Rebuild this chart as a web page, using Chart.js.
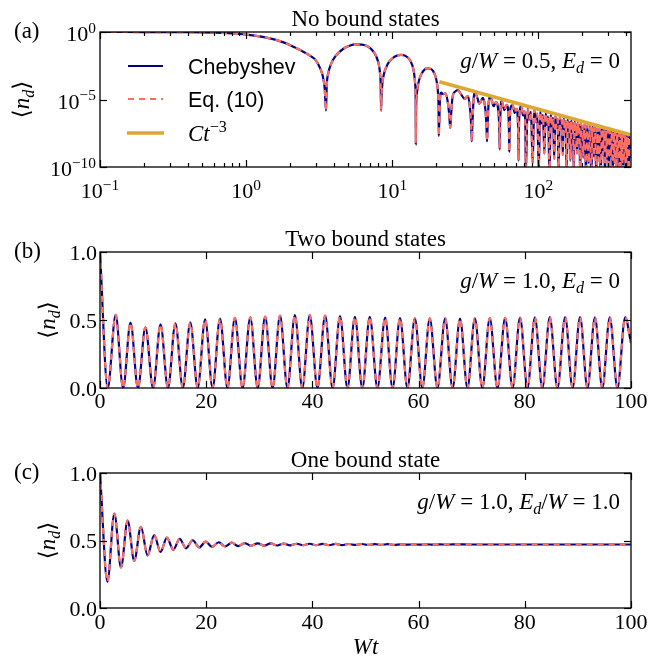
<!DOCTYPE html>
<html>
<head>
<meta charset="utf-8">
<script src="https://cdn.jsdelivr.net/npm/chart.js@4.4.1/dist/chart.umd.min.js"></script>
<style>
  html, body { margin: 0; padding: 0; background: #fff; }
  #wrap { position: relative; width: 652px; height: 656px; }
  #wrap canvas { position: absolute; left: 0; top: 0; }
</style>
</head>
<body>
<div id="wrap">
  <canvas id="canvasA" width="652" height="656"></canvas>
  <canvas id="canvasB" width="652" height="656"></canvas>
  <canvas id="canvasC" width="652" height="656"></canvas>
</div>
<script>
// ---- (a) no bound states, log-log: time Wt and <n_d>
var aT = [0.1, 0.15, 0.2, 0.3, 0.4, 0.5, 0.6, 0.7, 0.8, 0.9, 1.0, 1.2, 1.4, 1.6, 1.8, 2.0, 2.2, 2.4, 2.6, 2.8, 3.0, 3.2, 3.35, 3.45, 3.52,
  3.56, 3.65, 3.8, 4.1, 4.6, 5.1, 5.6, 6.2, 6.8, 7.3, 7.8, 8.1, 8.25, 8.33, 8.38,
  8.43, 8.55, 8.8, 9.3, 10.0, 10.8, 11.5, 12.3, 13.0, 13.7, 14.1, 14.35, 14.45, 14.5,
  14.55, 14.7, 15.0, 15.6, 16.4, 17.3, 18.2, 19.0, 19.8, 20.3, 20.6, 20.75, 20.8,
  21.2, 21.6, 22.3, 23.0, 24.0, 24.6, 24.9, 25.2, 25.8, 27.0, 28.1, 29.5, 31.3, 32.9, 34.0, 34.7, 35.0, 35.3, 36.0, 36.9, 38.2, 39.4, 41.7, 43.4, 44.1, 44.5, 44.9,
  45.6, 46.9, 49.4, 51.3, 53.3, 54.0, 54.3, 54.6, 55.2, 56.0, 58.5, 60.5, 62.4, 62.9, 63.2, 63.5, 64.2, 66.5, 68.8, 70.5, 72.3, 72.8, 73.1, 73.4, 74.2, 76.3, 78.5, 80.0, 81.3, 82.0,
  84.3, 86.6, 88.9, 91.3, 93.6, 95.9, 98.2, 100.5, 102.8, 105.1, 107.4, 109.8, 112.1, 114.4, 116.7, 119, 121.3, 123.6, 125.9, 128.3,
  130.6, 132.9, 135.2, 137.5, 139.8, 142.1, 144.4, 146.8, 149.1, 151.4, 153.7, 156, 158.3, 160.6, 162.9, 165.3, 167.6, 169.9, 172.2, 174.5,
  176.8, 179.1, 181.4, 183.8, 186.1, 188.4, 190.7, 193, 195.3, 197.6, 199.9,
  202.3, 206.9, 211.5, 216.1, 220.8, 225.4, 230, 234.6, 239.3, 243.9, 248.5, 253.1, 257.8, 262.4, 267, 271.6, 276.3, 280.9, 285.5, 290.1,
  294.8, 299.4, 304, 308.6, 313.3, 317.9, 322.5, 327.1, 331.8, 336.4, 341, 345.6, 350.3, 354.9, 359.5, 364.1, 368.8, 373.4, 378, 382.6,
  387.3, 391.9, 396.5, 401.1, 405.8, 410.4, 415, 419.6, 424.3, 430];
var aN = [0.998, 0.996, 0.992, 0.98, 0.96, 0.93, 0.89, 0.84, 0.78, 0.71, 0.64, 0.5, 0.37, 0.26, 0.17, 0.105, 0.065, 0.04, 0.025, 0.015, 0.008, 0.0022, 5e-4, 6e-5, 1.5e-6,
  1e-4, 9e-4, 0.004, 0.017, 0.055, 0.095, 0.12, 0.115, 0.085, 0.045, 0.014, 0.0035, 8e-4, 1.2e-4, 1.5e-6,
  1.3e-5, 1.5e-4, 9e-4, 0.0042, 0.011, 0.018, 0.02, 0.017, 0.0105, 0.0035, 9e-4, 1.3e-4, 1.4e-5, 5e-9,
  1.3e-6, 2e-5, 1.2e-4, 5.5e-4, 0.0014, 0.002, 0.0019, 0.0013, 4.6e-4, 1.2e-4, 2e-5, 1.3e-6, 2e-8,
  1e-5, 3.2e-5, 2.5e-5, 2.8e-5, 6e-6, 5e-7, 8e-8, 5e-7, 1.3e-5, 4e-5, 5e-5, 2.5e-5, 1.1e-5, 1.8e-5, 2.5e-6, 1e-7, 8e-9, 1e-7, 1e-5, 3.2e-5, 1.3e-5, 5e-6, 1.3e-5, 1.6e-6, 1e-7, 8e-9, 1e-7,
  5e-6, 1.6e-5, 3.2e-6, 6.3e-6, 1e-6, 6e-8, 2e-9, 6e-8, 3.2e-6, 8e-6, 1.6e-6, 4e-6, 6.3e-7, 4e-8, 1.3e-9, 4e-8, 2e-6, 4e-6, 1e-6, 2e-6, 3.2e-7, 2e-8, 3e-10, 2e-8, 1e-6, 3.2e-6, 6.3e-7, 1.3e-6, 1.6e-7, 3e-11,
  2.3e-6, 3e-7, 1.2e-6, 2e-10, 1.7e-6, 2.2e-7, 9e-7, 5e-11, 1.25e-6, 1.7e-7, 7e-7, 1e-9, 9.8e-7, 1.3e-7, 5.5e-7, 2e-11, 7.8e-7, 1e-7, 4.3e-7, 4e-10,
  6.2e-7, 8.3e-8, 3.5e-7, 3e-11, 5e-7, 6.8e-8, 2.9e-7, 8e-10, 4.2e-7, 5.6e-8, 2.4e-7, 2e-11, 3.5e-7, 4.7e-8, 2e-7, 3e-10, 2.9e-7, 4e-8, 1.7e-7, 4e-11,
  2.5e-7, 3.4e-8, 1.45e-7, 1e-9, 2.1e-7, 3e-8, 1.25e-7, 2e-11, 1.85e-7, 2.5e-8, 1.07e-7,
  5e-10, 1.6e-7, 3e-11, 1.35e-7, 2e-10, 1.2e-7, 1e-11, 1.05e-7, 6e-10, 9.3e-8, 2e-11, 8.3e-8, 3e-10, 7.6e-8, 1e-11, 6.8e-8, 8e-10, 6.2e-8, 2e-11, 5.6e-8,
  4e-10, 5.1e-8, 1e-11, 4.7e-8, 6e-10, 4.3e-8, 3e-11, 3.9e-8, 2e-10, 3.6e-8, 1e-11, 3.3e-8, 5e-10, 3.1e-8, 2e-11, 2.9e-8, 3e-10, 2.6e-8, 1e-11, 2.45e-8,
  7e-10, 2.3e-8, 2e-11, 2.1e-8, 4e-10, 2e-8, 1e-11, 1.85e-8, 5e-10, 1.5e-8];
// C t^-3 guide line, two ends
var fitT = [21, 430];
var fitN = [2.1e-4, 2.4e-8];

var aXMajor = [0.1, 1, 10, 100];
var aXExp = ['\u22121', '0', '1', '2'];
var aXMinor = [0.2, 0.3, 0.4, 0.5, 0.6, 0.7, 0.8, 0.9, 2, 3, 4, 5, 6, 7, 8, 9, 20, 30, 40, 50, 60, 70, 80, 90, 200, 300, 400];
var aYMajor = [1, 1e-5, 1e-10];
var aYExp = ['0', '\u22125', '\u221210'];

// ---- (b) two bound states
var bT = [0, 1.45, 2.95, 4.35, 5.75, 7.15, 8.55, 10.0, 11.4, 12.8, 14.2, 15.6, 17.0, 18.4, 19.8, 21.2, 22.6, 24.0, 25.4, 26.85, 28.3,
  29.7, 31.1, 32.5, 33.9, 35.3, 36.7, 38.1, 39.5, 40.95, 42.4, 43.8, 45.2, 46.6, 48.0, 49.4, 50.8, 52.25, 53.7, 55.1, 56.5,
  57.9, 59.3, 60.7, 62.1, 63.55, 65.0, 66.4, 67.8, 69.2, 70.6, 72.0, 73.4, 74.85, 76.3, 77.7, 79.1, 80.5, 81.9, 83.3, 84.7,
  86.15, 87.6, 89.0, 90.4, 91.8, 93.2, 94.6, 96.0, 97.45, 98.9, 100];
var bN = [1.0, 0, 0.537, 0, 0.48, 0, 0.446, 0, 0.468, 0, 0.476, 0, 0.483, 0, 0.505, 0, 0.51, 0, 0.515, 0, 0.52,
  0, 0.525, 0, 0.532, 0, 0.536, 0, 0.536, 0, 0.532, 0, 0.528, 0, 0.524, 0, 0.524, 0, 0.518, 0, 0.514,
  0, 0.512, 0, 0.512, 0, 0.512, 0, 0.51, 0, 0.512, 0, 0.514, 0, 0.516, 0, 0.518, 0, 0.52, 0, 0.522,
  0, 0.522, 0, 0.522, 0, 0.52, 0, 0.52, 0, 0.52, 0.33];

// ---- (c) one bound state
var cT = [0, 1.4, 2.7, 3.95, 5.2, 6.45, 7.7, 8.95, 10.2, 11.4, 12.6, 13.8, 15.0, 16.2, 17.45, 18.7, 19.9, 21.1, 22.35, 23.55,
  24.8, 26.0, 27.25, 28.45, 29.7, 30.9, 32.15, 33.35, 34.6, 35.8, 37.05, 38.25, 39.5, 40.7, 41.95, 43.15, 44.4, 45.6, 46.85, 48.05,
  49.3, 50.5, 51.75, 52.95, 54.2, 55.4, 56.65, 57.85, 59.1, 60.3, 61.55, 62.75, 64.0, 65.2, 66.45, 70, 80, 90, 100];
var cN = [1.0, 0.195, 0.70, 0.30, 0.647, 0.35, 0.602, 0.39, 0.54, 0.415, 0.522, 0.432, 0.512, 0.442, 0.502, 0.449, 0.492, 0.453, 0.487, 0.456,
  0.484, 0.459, 0.481, 0.461, 0.479, 0.462, 0.478, 0.463, 0.477, 0.464, 0.476, 0.465, 0.476, 0.465, 0.475, 0.466, 0.475, 0.466, 0.474, 0.467,
  0.474, 0.467, 0.473, 0.468, 0.473, 0.468, 0.472, 0.469, 0.472, 0.469, 0.472, 0.469, 0.471, 0.47, 0.471, 0.4705, 0.4705, 0.4705, 0.4705];

var linXTicks = [0, 20, 40, 60, 80, 100];
var linYTicks = [0, 0.5, 1];
var linYLabels = ['0.0', '0.5', '1.0'];

var BLUE = '#00008b';
var SALMON = '#ff6f61';
var GOLD = '#dca733';
var SERIF = '"Liberation Serif", "DejaVu Serif", serif';
var SANS = '"Liberation Sans", Arial, sans-serif';

function pts(xs, ys) {
	return xs.map(function (x, i) { return {x: x, y: ys[i]}; });
}

function curves(xs, ys) {
	return [
		{label: 'Chebyshev', data: pts(xs, ys), borderColor: BLUE, borderWidth: 2.2, order: 2},
		{label: 'Eq. (10)', data: pts(xs, ys), borderColor: SALMON, borderWidth: 2.2, borderDash: [6, 5], order: 1}
	];
}

// text with italic / sub / superscript pieces
function partFont(p, size) {
	var s = (p.sup || p.sub) ? size * 0.7 : size;
	return (p.i ? 'italic ' : '') + s + 'px ' + (p.sans ? SANS : SERIF);
}
function rich(ctx, parts, x, y, align, size) {
	size = size || 22;
	var w = 0;
	parts.forEach(function (p) { ctx.font = partFont(p, size); w += ctx.measureText(p.t).width; });
	var cx = align === 'right' ? x - w : (align === 'center' ? x - w / 2 : x);
	parts.forEach(function (p) {
		ctx.font = partFont(p, size);
		var dy = p.sup ? -0.38 * size : (p.sub ? 0.2 * size : 0);
		ctx.fillText(p.t, cx, y + dy);
		cx += ctx.measureText(p.t).width;
	});
}
function pow10(e) { return [{t: '10'}, {t: e, sup: true}]; }
function plain(s) { return [{t: String(s)}]; }

var nd = [{t: '\u27e8'}, {t: 'n', i: 1}, {t: 'd', i: 1, sub: 1}, {t: '\u27e9'}];

function seg(ctx, x1, y1, x2, y2) {
	ctx.beginPath(); ctx.moveTo(x1, y1); ctx.lineTo(x2, y2); ctx.stroke();
}

// frame, inward ticks on all four sides, tick labels and panel texts
function deco(cfg) {
	return {
		id: 'deco',
		afterDatasetsDraw: function (chart) {
			var ctx = chart.ctx, a = chart.chartArea, sx = chart.scales.x, sy = chart.scales.y;
			ctx.save();
			ctx.strokeStyle = '#000';
			ctx.lineWidth = 1.3;
			ctx.strokeRect(a.left, a.top, a.right - a.left, a.bottom - a.top);
			ctx.lineWidth = 1.2;
			function tickX(v, len) {
				var p = Math.round(sx.getPixelForValue(v)) + 0.5;
				seg(ctx, p, a.bottom, p, a.bottom - len);
				seg(ctx, p, a.top, p, a.top + len);
			}
			function tickY(v, len) {
				var p = Math.round(sy.getPixelForValue(v)) + 0.5;
				seg(ctx, a.left, p, a.left + len, p);
				seg(ctx, a.right, p, a.right - len, p);
			}
			cfg.xMajor.forEach(function (v) { tickX(v, 7); });
			(cfg.xMinor || []).forEach(function (v) { tickX(v, 4); });
			cfg.yMajor.forEach(function (v) { tickY(v, 7); });

			ctx.fillStyle = '#000';
			ctx.textAlign = 'left';
			ctx.textBaseline = 'alphabetic';
			cfg.xMajor.forEach(function (v, i) {
				rich(ctx, cfg.xLab[i], sx.getPixelForValue(v), a.bottom + cfg.xLabDy, 'center');
			});
			cfg.yMajor.forEach(function (v, i) {
				rich(ctx, cfg.yLab[i], cfg.yLabX, sy.getPixelForValue(v) + cfg.yLabDy, 'right');
			});
			rich(ctx, [{t: cfg.title}], (a.left + a.right) / 2, a.top - 6, 'center', 23);
			rich(ctx, [{t: cfg.tag}], 14, a.top + 6, 'left', 23);
			rich(ctx, cfg.note, a.right - 11, a.top + 36, 'right', 23);

			ctx.save();
			ctx.translate(cfg.ylabX, (a.top + a.bottom) / 2);
			ctx.rotate(-Math.PI / 2);
			rich(ctx, nd, 0, 0, 'center', 23);
			ctx.restore();

			if (cfg.extra) cfg.extra(ctx, chart);
			ctx.restore();
		}
	};
}

function makeChart(id, datasets, xScale, yScale, pad, cfg) {
	return new Chart(document.getElementById(id), {
		type: 'line',
		data: {datasets: datasets},
		options: {
			responsive: false,
			animation: false,
			events: [],
			layout: {padding: pad},
			elements: {point: {radius: 0}, line: {cubicInterpolationMode: 'monotone', fill: false}},
			plugins: {legend: {display: false}, tooltip: {enabled: false}},
			scales: {
				x: Object.assign({display: false}, xScale),
				y: Object.assign({display: false}, yScale)
			}
		},
		plugins: [deco(cfg)]
	});
}

// legend of panel (a), drawn with the dataset styles
function legendA(ctx, chart) {
	var ds = chart.data.datasets;
	ctx.lineCap = 'butt';
	ctx.strokeStyle = ds[0].borderColor; ctx.lineWidth = ds[0].borderWidth;
	seg(ctx, 128, 66, 163, 66);
	ctx.strokeStyle = ds[1].borderColor; ctx.lineWidth = ds[1].borderWidth;
	ctx.setLineDash(ds[1].borderDash);
	seg(ctx, 128, 99, 163, 99);
	ctx.setLineDash([]);
	ctx.strokeStyle = ds[2].borderColor; ctx.lineWidth = ds[2].borderWidth;
	seg(ctx, 127, 133, 164, 133);
	ctx.fillStyle = '#000';
	rich(ctx, [{t: 'Chebyshev', sans: 1}], 188, 73.5, 'left', 21.5);
	rich(ctx, [{t: 'Eq. (10)', sans: 1}], 188, 107, 'left', 21.5);
	rich(ctx, [{t: 'Ct', i: 1}, {t: '\u22123', sup: 1}], 188, 141, 'left', 23);
}

var dsA = curves(aT, aN);
dsA.push({label: 'Ct^-3', data: pts(fitT, fitN), borderColor: GOLD, borderWidth: 3.6, order: 0});

makeChart('canvasA', dsA,
	{type: 'logarithmic', min: 0.1, max: 430},
	{type: 'logarithmic', min: 1e-10, max: 1},
	{left: 100, right: 21, top: 32, bottom: 489},
	{
		xMajor: aXMajor, xMinor: aXMinor, yMajor: aYMajor,
		xLab: aXExp.map(pow10), yLab: aYExp.map(pow10),
		xLabDy: 31, yLabX: 96, yLabDy: 9,
		title: 'No bound states', tag: '(a)', ylabX: 29,
		note: [{t: 'g', i: 1}, {t: '/'}, {t: 'W', i: 1}, {t: ' = 0.5, '}, {t: 'E', i: 1}, {t: 'd', i: 1, sub: 1}, {t: ' = 0'}],
		extra: legendA
	});

makeChart('canvasB', curves(bT, bN),
	{type: 'linear', min: 0, max: 100},
	{type: 'linear', min: 0, max: 1},
	{left: 100, right: 21, top: 252, bottom: 268},
	{
		xMajor: linXTicks, yMajor: linYTicks,
		xLab: linXTicks.map(plain), yLab: linYLabels.map(plain),
		xLabDy: 20, yLabX: 97, yLabDy: 7.5,
		title: 'Two bound states', tag: '(b)', ylabX: 55,
		note: [{t: 'g', i: 1}, {t: '/'}, {t: 'W', i: 1}, {t: ' = 1.0, '}, {t: 'E', i: 1}, {t: 'd', i: 1, sub: 1}, {t: ' = 0'}]
	});

makeChart('canvasC', curves(cT, cN),
	{type: 'linear', min: 0, max: 100},
	{type: 'linear', min: 0, max: 1},
	{left: 100, right: 21, top: 473, bottom: 48},
	{
		xMajor: linXTicks, yMajor: linYTicks,
		xLab: linXTicks.map(plain), yLab: linYLabels.map(plain),
		xLabDy: 21, yLabX: 97, yLabDy: 7.5,
		title: 'One bound state', tag: '(c)', ylabX: 55,
		note: [{t: 'g', i: 1}, {t: '/'}, {t: 'W', i: 1}, {t: ' = 1.0, '}, {t: 'E', i: 1}, {t: 'd', i: 1, sub: 1}, {t: '/'}, {t: 'W', i: 1}, {t: ' = 1.0'}],
		extra: function (ctx, chart) {
			var a = chart.chartArea;
			rich(ctx, [{t: 'Wt', i: 1}], (a.left + a.right) / 2, 654, 'center', 23);
		}
	});
</script>
</body>
</html>
